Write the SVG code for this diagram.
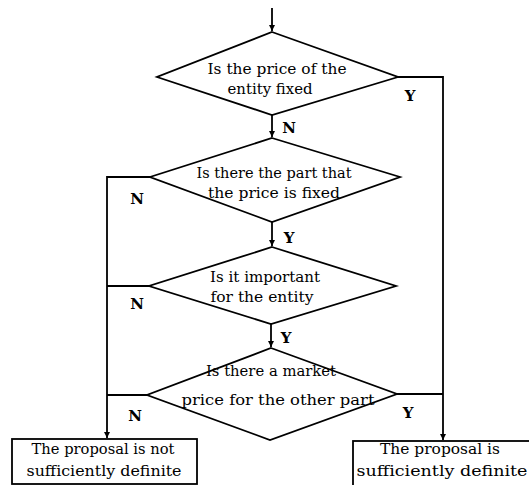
<svg xmlns="http://www.w3.org/2000/svg" width="529" height="485" viewBox="0 0 529 485">
<style>
.shape{fill:#fff;stroke:#000;stroke-width:1.8}
.line{fill:none;stroke:#000;stroke-width:1.8}
.t{font-family:"DejaVu Serif","Liberation Serif",serif;font-size:15.5px;fill:#000;text-anchor:middle}
.lb{font-family:"DejaVu Serif","Liberation Serif",serif;font-size:15px;font-weight:bold;fill:#000;text-anchor:middle}
</style>
<defs>
<marker id="arr" markerWidth="8" markerHeight="8" refX="6" refY="4" orient="auto" markerUnits="userSpaceOnUse">
<path d="M0,1 L6,4 L0,7 Z" fill="#000"/>
</marker>
</defs>
<rect width="529" height="485" fill="#fff"/>
<g id="connectors">
<line class="line" x1="272" y1="8" x2="272" y2="31" marker-end="url(#arr)"/>
<line class="line" x1="272" y1="115" x2="272" y2="137" marker-end="url(#arr)"/>
<polyline class="line" points="398,77 443,77 443,440" marker-end="url(#arr)"/>
<polyline class="line" points="150,177 107,177 107,438" marker-end="url(#arr)"/>
<line class="line" x1="272" y1="222" x2="272" y2="246" marker-end="url(#arr)"/>
<line class="line" x1="149" y1="286" x2="107" y2="286"/>
<line class="line" x1="271" y1="324" x2="271" y2="347" marker-end="url(#arr)"/>
<line class="line" x1="147" y1="395" x2="107" y2="395"/>
<line class="line" x1="397" y1="394" x2="443" y2="394"/>
<text class="lb" x="410" y="101">Y</text>
<text class="lb" x="289" y="133">N</text>
<text class="lb" x="137" y="204">N</text>
<text class="lb" x="289" y="243">Y</text>
<text class="lb" x="137" y="309">N</text>
<text class="lb" x="286" y="343">Y</text>
<text class="lb" x="135" y="421">N</text>
<text class="lb" x="408" y="418">Y</text>
</g>
<g id="d1">
<polygon class="shape" points="272,32 398,77 272,115 157,77"/>
<text class="t" x="277" y="74" textLength="139" lengthAdjust="spacingAndGlyphs">Is the price of the</text>
<text class="t" x="270" y="94" textLength="85" lengthAdjust="spacingAndGlyphs">entity fixed</text>
</g>
<g id="d2">
<polygon class="shape" points="272,138 400,177 272,222 150,177"/>
<text class="t" x="274" y="178" textLength="155" lengthAdjust="spacingAndGlyphs">Is there the part that</text>
<text class="t" x="274" y="198" textLength="132" lengthAdjust="spacingAndGlyphs">the price is fixed</text>
</g>
<g id="d3">
<polygon class="shape" points="272,247 396,286 271,324 149,286"/>
<text class="t" x="265" y="282" textLength="110" lengthAdjust="spacingAndGlyphs">Is it important</text>
<text class="t" x="262" y="302" textLength="103" lengthAdjust="spacingAndGlyphs">for the entity</text>
</g>
<g id="d4">
<polygon class="shape" points="271,348 397,394 270,440 147,395"/>
<text class="t" x="271" y="376" textLength="130" lengthAdjust="spacingAndGlyphs">Is there a market</text>
<text class="t" x="278" y="405" textLength="193" lengthAdjust="spacingAndGlyphs">price for the other part</text>
</g>
<g id="box-not">
<rect class="shape" x="12" y="439" width="185" height="45"/>
<text class="t" x="103" y="454" textLength="143" lengthAdjust="spacingAndGlyphs">The proposal is not</text>
<text class="t" x="104" y="476" textLength="155" lengthAdjust="spacingAndGlyphs">sufficiently definite</text>
</g>
<g id="box-yes">
<rect class="shape" x="353" y="441" width="185" height="50"/>
<text class="t" x="440" y="454" textLength="120" lengthAdjust="spacingAndGlyphs">The proposal is</text>
<text class="t" x="442" y="476" textLength="171" lengthAdjust="spacingAndGlyphs">sufficiently definite</text>
</g>
</svg>
